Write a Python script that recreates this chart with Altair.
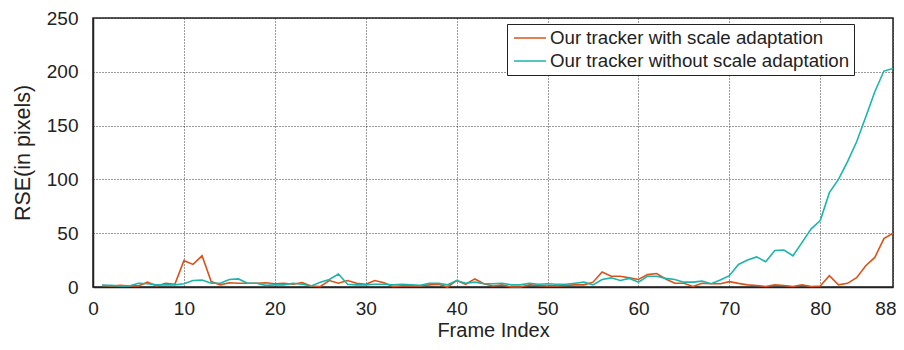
import altair as alt
import pandas as pd

frames = list(range(1, 89))

with_scale = [1.5, 1, 1.5, 1, 1, 4.5, 1, 3.5, 2.5, 24.5,
              21, 29, 5, 2, 4, 3.5, 3.5, 3.5, 4, 3,
              3.5, 2.5, 4, 1, 0.5, 6, 3.5, 6, 3.5, 2.5,
              6, 4, 0.5, 1, 1, 1, 2, 2.5, 0, 6,
              2.5, 7.5, 3, 1, 2, 0, 0, 2, 1.5, 1,
              1, 1.5, 2, 2, 4.5, 14, 10, 10, 8.5, 7,
              11.5, 12.5, 7.5, 3.5, 3.5, 0.5, 3.5, 3, 3, 5,
              3.4, 2, 1.4, 0.5, 2, 1.4, 0.5, 2, 0.5, 1,
              10.5, 2, 3.4, 8.7, 19.8, 27.5, 45, 50]

without_scale = [1.5, 1.5, 1, 1, 3.5, 3, 2, 2, 2, 3,
                 6, 6.5, 3.5, 3.5, 7, 7.5, 3.5, 3.5, 1.5, 2,
                 2, 3.5, 2.5, 1, 4.5, 7, 12, 2.5, 2, 2,
                 2.5, 2.5, 2, 2.5, 2, 1.5, 3.5, 3.5, 2, 6,
                 3.5, 4.5, 3, 3, 3.5, 2, 2, 3.5, 2.5, 3,
                 2.5, 2.5, 3.5, 4.5, 2, 7, 8.5, 6, 8, 4.5,
                 10, 10, 8, 7, 4.5, 4.5, 5.5, 3, 6.5, 10.5,
                 21, 25, 28, 23.5, 34, 34.4, 29, 41.5, 54, 61.7,
                 87.7, 100, 116.5, 135, 158, 181.5, 200.7, 203]

series_names = ["Our tracker with scale adaptation", "Our tracker without scale adaptation"]
series_colors = ["#D9541A", "#1BB5AC"]
x_ticks = [0, 10, 20, 30, 40, 50, 60, 70, 80, 88]
y_ticks = [0, 50, 100, 150, 200, 250]

df = pd.concat([
    pd.DataFrame({"frame": frames, "rse": with_scale, "series": series_names[0]}),
    pd.DataFrame({"frame": frames, "rse": without_scale, "series": series_names[1]}),
])

FONT = "Liberation Sans"

chart = alt.Chart(df).mark_line(strokeWidth=1.6).encode(
    x=alt.X("frame:Q",
            scale=alt.Scale(domain=[0, 88], nice=False, zero=False),
            axis=alt.Axis(values=x_ticks, title="Frame Index", ticks=False,
                          labelFlush=False, labelPadding=12, titlePadding=2,
                          titleFontSize=20,
                          labelAlign={"condition": {"test": "datum.value == 88", "value": "right"},
                                      "value": "center"},
                          labelOffset={"condition": {"test": "datum.value == 88", "value": 3},
                                       "value": 0})),
    y=alt.Y("rse:Q",
            scale=alt.Scale(domain=[0, 250], nice=False),
            axis=alt.Axis(values=y_ticks, title="RSE(in pixels)", ticks=False,
                          labelFlush=False, labelPadding=15, titlePadding=12)),
    color=alt.Color("series:N",
                    scale=alt.Scale(domain=series_names, range=series_colors),
                    legend=alt.Legend(title=None, orient="none", legendX=414, legendY=6,
                                      symbolType="M-0.78,0H2.78", symbolSize=324,
                                      symbolStrokeWidth=1.6,
                                      labelFontSize=18.7, labelFont=FONT,
                                      labelColor="#222", labelOffset=19,
                                      rowPadding=3,
                                      strokeColor="#222", fillColor="white",
                                      padding=4, cornerRadius=0,
                                      labelLimit=400)),
).properties(
    width=800, height=269,
    autosize=alt.AutoSizeParams(type="none"),
    padding={"left": 85, "top": 10, "right": 3, "bottom": 55}
).configure_view(
    stroke="#222", strokeWidth=1.5
).configure_axis(
    labelFont=FONT, titleFont=FONT, labelFontSize=19, titleFontSize=21.5,
    labelColor="#222", titleColor="#222", titleFontWeight="normal",
    domainColor="#222", domainWidth=1.5,
    grid=True, gridColor="#222", gridDash=[1, 2], gridWidth=1, gridOpacity=0.9,
)

chart.save("out.html", embed_options={"renderer": "svg", "actions": False})
